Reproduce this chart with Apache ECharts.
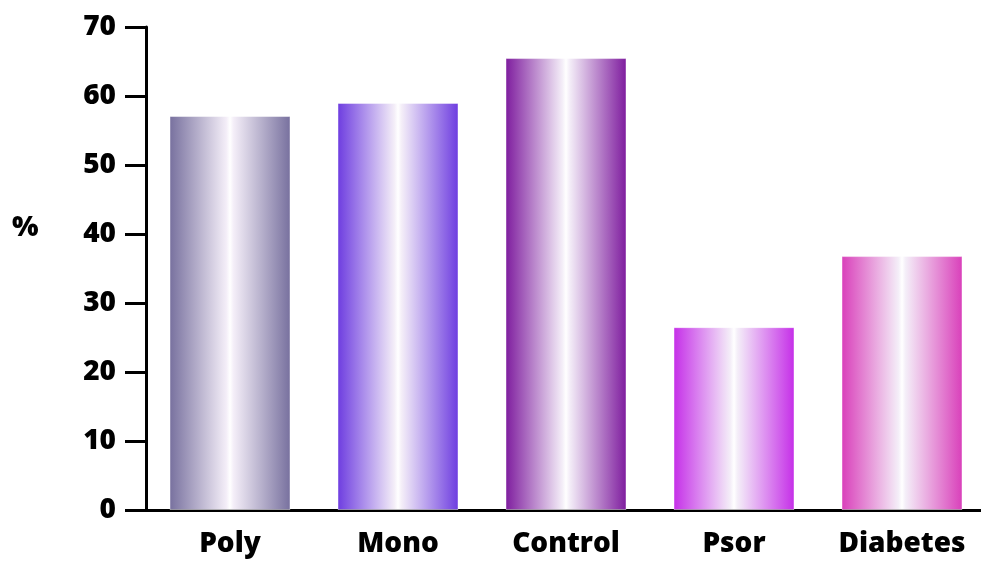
<!DOCTYPE html>
<html>
<head>
<meta charset="utf-8">
<script src="https://cdn.jsdelivr.net/npm/echarts@6/dist/echarts.min.js"></script>
<style>
  html, body { margin: 0; padding: 0; background: #fff; overflow: hidden; }
  #chart { width: 986px; height: 561px; }
</style>
</head>
<body>
<div id="chart"></div>
<script>
// Groups and their percentages
const categories = ['Poly', 'Mono', 'Control', 'Psor', 'Diabetes'];
const percentValues = [57.1, 59.0, 65.5, 26.5, 36.8];
// Edge colour of each bar's horizontal sheen
const barEdgeColors = ['#77709e', '#6d3ce0', '#7e1c9e', '#c52ee8', '#d93fba'];
const yTicks = { min: 0, max: 70, interval: 10 };
const yUnit = '%';

function sheen(edge) {
  return new echarts.graphic.LinearGradient(0, 0, 1, 0, [
    { offset: 0, color: edge },
    { offset: 0.47, color: '#f4eef8' },
    { offset: 0.5, color: '#ffffff' },
    { offset: 0.53, color: '#f4eef8' },
    { offset: 1, color: edge }
  ]);
}

const fontFamily = '"Open Sans", "DejaVu Sans", sans-serif';
const labelFont = { color: '#000', fontFamily, fontWeight: 800, fontSize: 28 };
const chart = echarts.init(document.getElementById('chart'), null, { renderer: 'canvas' });

chart.setOption({
  animation: false,
  grid: { left: 146, right: 0, top: 27, bottom: 51, containLabel: false },
  graphic: [{
    type: 'text',
    left: 12,
    top: 214,
    style: Object.assign({ text: yUnit }, { fill: '#000', font: '800 28px ' + fontFamily })
  }],
  xAxis: {
    type: 'category',
    data: categories,
    axisLine: { lineStyle: { color: '#000', width: 3 } },
    axisTick: { alignWithLabel: true, length: 15, lineStyle: { color: '#000', width: 3 } },
    axisLabel: Object.assign({ margin: 20 }, labelFont)
  },
  yAxis: {
    type: 'value',
    min: yTicks.min,
    max: yTicks.max,
    interval: yTicks.interval,
    splitLine: { show: false },
    axisLine: { show: true, lineStyle: { color: '#000', width: 3 } },
    axisTick: { show: true, length: 21, lineStyle: { color: '#000', width: 3 } },
    axisLabel: Object.assign({ margin: 30 }, labelFont)
  },
  series: [{
    type: 'bar',
    barWidth: 121,
    data: percentValues.map((v, i) => ({
      value: v,
      itemStyle: { color: sheen(barEdgeColors[i]), borderColor: 'rgba(255,255,255,0.45)', borderWidth: 1 }
    }))
  }]
});
</script>
</body>
</html>
